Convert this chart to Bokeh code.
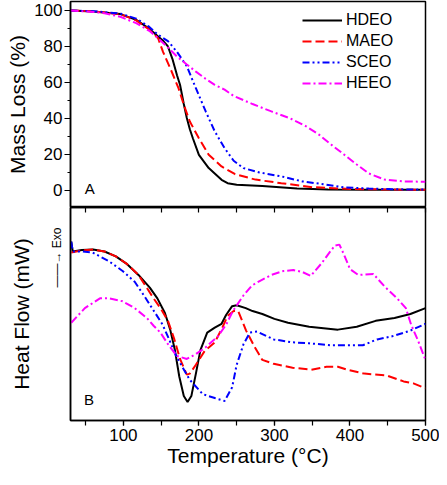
import math
from bokeh.plotting import figure
from bokeh.layouts import column
from bokeh.models import (Range1d, LinearAxis, SingleIntervalTicker, FixedTicker,
                          Label, Legend, LegendItem, Title)
from bokeh.embed import file_html
from bokeh.resources import INLINE

# ---------------- data ----------------
series_names = ["HDEO", "MAEO", "SCEO", "HEEO"]

# Mass loss (%) vs temperature (C)
hdeo_ml_t = [30, 60, 96, 117, 134, 146, 153, 159, 165, 171, 175, 180, 184, 188, 192, 200, 213, 230, 238, 250, 284, 330, 371, 420, 500]
hdeo_ml_v = [100, 99.5, 98, 94.8, 90, 85.5, 83, 80, 73, 64, 58.7, 48, 40.2, 34, 29, 19.8, 12.4, 5.9, 4, 3.2, 2.4, 1.1, 0.5, 0.4, 0.3]

maeo_ml_t = [30, 60, 96, 117, 134, 146, 152.5, 163, 173, 180, 188, 200, 213, 230, 248, 275, 309, 350, 400, 450, 500]
maeo_ml_v = [100, 99.5, 98, 94.5, 89.5, 84.6, 77, 67, 56.8, 47.6, 38.3, 29, 19.8, 13.3, 9.0, 6.0, 4.0, 1.8, 0.8, 0.5, 0.3]

sceo_ml_t = [30, 60, 96, 117, 134, 146, 159, 171, 184, 196, 209, 221, 234, 246, 259, 280, 309, 337, 367, 392, 425, 460, 500]
sceo_ml_v = [100, 99.6, 98.3, 95.5, 91, 86.5, 83, 77, 69, 56.8, 43.9, 32.8, 23.5, 16.5, 12.4, 10, 7.8, 5, 3.3, 1.7, 1, 0.6, 0.5]

heeo_ml_t = [30, 60, 75, 96, 117, 135, 146, 160, 171, 184, 196, 209, 221, 234, 246, 271, 296, 321, 342, 359, 375, 392, 409, 425, 446, 471, 500]
heeo_ml_v = [100, 99.2, 98.5, 96.5, 93, 88.5, 84.6, 79, 74.4, 70, 66, 62, 58.7, 56, 52.5, 48, 43.9, 40, 35.6, 31, 25.5, 20, 14.4, 9.4, 6, 5, 4.8]

# Heat flow (arbitrary mW scale) vs temperature (C)
hdeo_hf_t = [31, 33, 45, 60, 75, 90, 105, 120, 135, 145, 155, 162, 168, 174, 180, 185, 190, 196, 202, 211, 221, 230, 236, 244, 250, 262, 271, 284, 300, 318, 346, 384, 409, 434, 459, 480, 500]
hdeo_hf_v = [18.3, 17.3, 17.45, 17.5, 17.3, 16.8, 16.0, 14.9, 13.6, 12.5, 11.0, 9.3, 7.3, 4.5, 2.5, 1.9, 2.5, 4.8, 7.2, 9.0, 9.5, 9.9, 10.8, 11.7, 11.8, 11.5, 11.2, 10.9, 10.4, 10.0, 9.6, 9.3, 9.6, 10.2, 10.5, 10.9, 11.5]

maeo_hf_t = [31, 45, 60, 75, 90, 105, 120, 140, 150, 159, 167.5, 175, 184, 188, 196, 207.5, 221, 231, 238, 246, 252, 262.5, 274, 284, 299, 324, 349, 369, 384, 396, 419, 449, 471, 484, 500]
maeo_hf_v = [17.2, 17.4, 17.5, 17.3, 16.8, 16.0, 14.9, 12.5, 11.4, 10.2, 8.3, 6.3, 4.7, 4.8, 5.7, 7.1, 8.0, 9.5, 10.7, 11.2, 11.2, 9.2, 7.5, 6.2, 5.8, 5.4, 5.2, 5.5, 5.5, 5.2, 4.8, 4.6, 4.0, 3.8, 3.3]

sceo_hf_t = [31, 33, 45, 59, 81, 99, 115, 128, 143, 152, 160, 170, 187.5, 205, 221, 234, 244, 250, 259, 267.5, 277, 299, 324, 346, 375, 396, 417, 436, 455, 480, 500]
sceo_hf_v = [18.3, 17.3, 17.3, 17.2, 16.3, 15.3, 14.2, 12.7, 10.9, 9.8, 8.4, 6.6, 4.2, 2.7, 2.3, 2.0, 3.4, 5.7, 7.8, 9.0, 9.1, 8.3, 8.0, 7.9, 7.7, 7.7, 7.7, 8.3, 8.6, 9.2, 9.9]

heeo_hf_t = [31, 49, 69, 81, 99, 115, 131, 140, 149, 160, 171, 184, 196, 209, 225, 236, 245, 259, 270, 281, 296, 312, 325, 337, 348, 362.5, 373, 380, 386, 392, 400, 411, 431, 446, 462.5, 474, 481, 490, 500]
heeo_hf_v = [10.0, 11.5, 12.5, 12.5, 12.2, 11.5, 10.5, 9.7, 9.0, 7.7, 6.6, 6.3, 6.8, 7.5, 8.6, 9.8, 11.2, 12.8, 13.8, 14.3, 14.9, 15.3, 15.4, 15.2, 14.8, 16.1, 17.2, 17.9, 18.0, 17.0, 15.5, 14.9, 15.0, 13.7, 12.5, 11.5, 9.8, 8.2, 6.2]

x_ticks_major = 100
x_ticks_divider = [50, 100, 150, 200, 250, 300, 350, 400, 450, 500]
ml_ticks = 20

# ---------------- styles ----------------
FONT = "Liberation Sans"
W = 439
TOP_H = 207
BOT_H = 262
LEFT = 60
RIGHT = 14

colors = ["black", "#FF0000", "#0000FF", "#FF00FF"]
dashes = ["solid", "9 4", "7 3 2 3 2 3", "8 3 2 3"]
widths = [2, 2, 2, 2]

x_range = Range1d(30, 500)

# ---------------- top panel ----------------
top = figure(width=W, height=TOP_H, x_range=x_range, y_range=Range1d(-9.5, 105),
             output_backend="svg", toolbar_location=None, x_axis_location=None,
             min_border_left=LEFT, min_border_right=RIGHT, min_border_top=1,
             min_border_bottom=0)
top.grid.visible = False
top.outline_line_color = "black"
top.outline_line_width = 1.5
top.outline_line_alpha = 1

ya = top.yaxis[0]
ya.ticker = SingleIntervalTicker(interval=ml_ticks, num_minor_ticks=2)
ya.major_tick_out = 6
ya.major_tick_in = 0
ya.minor_tick_out = 3
ya.minor_tick_in = 0
ya.major_tick_line_width = 1.2
ya.minor_tick_line_width = 1.2
ya.major_tick_line_color = "black"
ya.minor_tick_line_color = "black"
ya.axis_line_color = "black"
ya.axis_line_width = 1.5
ya.major_label_text_font = FONT
ya.major_label_text_font_size = "17px"
ya.major_label_text_color = "black"
ya.major_label_standoff = 2
ya.axis_label = "Mass Loss (%)"
ya.axis_label_text_font = FONT
ya.axis_label_text_font_size = "21px"
ya.axis_label_text_font_style = "normal"
ya.axis_label_text_color = "black"
ya.axis_label_standoff = 2

ml_data = [(hdeo_ml_t, hdeo_ml_v), (maeo_ml_t, maeo_ml_v), (sceo_ml_t, sceo_ml_v), (heeo_ml_t, heeo_ml_v)]
items = []
for name, (t, v), c, d, w in zip(series_names, ml_data, colors, dashes, widths):
    r = top.line(t, v, line_color=c, line_dash=d, line_width=w)
    items.append(LegendItem(label=name, renderers=[r]))

legend = Legend(items=items, location=(232, 115))
legend.border_line_color = None
legend.background_fill_alpha = 0
legend.label_text_font = FONT
legend.label_text_font_size = "16px"
legend.label_text_color = "black"
legend.glyph_width = 40
legend.glyph_height = 18
legend.label_height = 18
legend.spacing = 3
legend.padding = 0
legend.margin = 0
legend.label_standoff = 4
top.add_layout(legend)

top.add_layout(Label(x=55.5, y=1, text="A", text_font=FONT, text_font_size="15px",
                     text_color="black", text_align="center", text_baseline="middle"))

# ---------------- bottom panel ----------------
bot = figure(width=W, height=BOT_H, x_range=x_range, y_range=Range1d(0, 21.8),
             output_backend="svg", toolbar_location=None,
             min_border_left=LEFT, min_border_right=RIGHT, min_border_top=0,
             min_border_bottom=0)
bot.grid.visible = False
bot.outline_line_color = "black"
bot.outline_line_width = 1.5

xa = bot.xaxis[0]
xa.ticker = SingleIntervalTicker(interval=x_ticks_major, num_minor_ticks=2)
xa.major_tick_out = 5
xa.major_tick_in = 0
xa.minor_tick_out = 5
xa.minor_tick_in = 0
xa.major_tick_line_width = 1.2
xa.minor_tick_line_width = 1.2
xa.major_tick_line_color = "black"
xa.minor_tick_line_color = "black"
xa.axis_line_color = "black"
xa.axis_line_width = 1.5
xa.major_label_text_font = FONT
xa.major_label_text_font_size = "17px"
xa.major_label_text_color = "black"
xa.major_label_standoff = 3
xa.axis_label = "Temperature (°C)"
xa.axis_label_text_font = FONT
xa.axis_label_text_font_size = "21px"
xa.axis_label_text_font_style = "normal"
xa.axis_label_text_color = "black"
xa.axis_label_standoff = 0

# divider ticks between the two panels (minor ticks only, no labels)
ax_top = LinearAxis(ticker=FixedTicker(ticks=[], minor_ticks=x_ticks_divider))
ax_top.minor_tick_in = 5
ax_top.minor_tick_out = 0
ax_top.minor_tick_line_width = 1.2
ax_top.minor_tick_line_color = "black"
ax_top.major_tick_out = 0
ax_top.major_tick_in = 0
ax_top.major_label_standoff = 0
ax_top.axis_line_color = "black"
ax_top.axis_line_width = 1.5
bot.add_layout(ax_top, "above")

yb = bot.yaxis[0]
yb.ticker = FixedTicker(ticks=[])
yb.major_tick_out = 0
yb.minor_tick_out = 0
yb.major_label_standoff = 0
yb.axis_line_color = "black"
yb.axis_line_width = 1.5

exo = Title(text="——→ Exo", align="right", offset=20, standoff=14,
            text_font=FONT, text_font_size="12px", text_font_style="normal",
            text_color="black")
bot.add_layout(exo, "left")
hf_title = Title(text="Heat Flow (mW)", align="center", standoff=15,
                 text_font=FONT, text_font_size="21px", text_font_style="normal",
                 text_color="black")
bot.add_layout(hf_title, "left")

hf_data = [(hdeo_hf_t, hdeo_hf_v), (maeo_hf_t, maeo_hf_v), (sceo_hf_t, sceo_hf_v), (heeo_hf_t, heeo_hf_v)]
for (t, v), c, d, w in zip(hf_data, colors, dashes, widths):
    bot.line(t, v, line_color=c, line_dash=d, line_width=w)

bot.add_layout(Label(x=54.5, y=2.1, text="B", text_font=FONT, text_font_size="15px",
                     text_color="black", text_align="center", text_baseline="middle"))

layout = column(top, bot)
open("out.html", "w").write(file_html(layout, INLINE))
